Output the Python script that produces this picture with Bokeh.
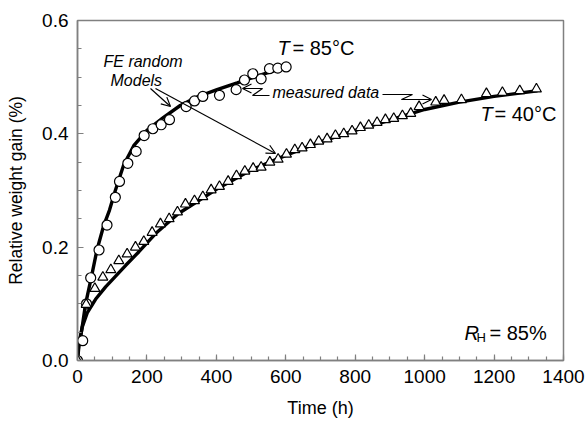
from bokeh.plotting import figure
from bokeh.models import Label, Arrow, OpenHead, FixedTicker, NumeralTickFormatter, Range1d
from bokeh.embed import file_html
from bokeh.resources import INLINE

# ---- data ----
t85_meas = [0, 15, 26, 38, 62, 85, 109, 121, 145, 169, 192, 217, 241, 265, 313, 337,
            361, 409, 457, 481, 505, 529, 553, 577, 601]
w85_meas = [0.0, 0.035, 0.100, 0.146, 0.195, 0.239, 0.288, 0.316, 0.348, 0.369, 0.397,
            0.409, 0.416, 0.425, 0.448, 0.458, 0.466, 0.468, 0.478, 0.495, 0.506, 0.497,
            0.515, 0.516, 0.518]

t40_meas = [0, 25, 50, 73, 96, 119, 143, 167, 191, 215, 239, 264, 288, 311, 337, 361,
            385, 409, 434, 458, 482, 506, 529, 554, 578, 602, 626, 647, 671, 695, 719,
            743, 767, 791, 815, 839, 863, 887, 911, 936, 960, 984, 1032, 1056, 1106,
            1178, 1224, 1274, 1322]
w40_meas = [0.0, 0.099, 0.127, 0.147, 0.160, 0.176, 0.188, 0.200, 0.210, 0.226, 0.241,
            0.250, 0.262, 0.276, 0.282, 0.289, 0.301, 0.307, 0.316, 0.326, 0.334, 0.339,
            0.341, 0.350, 0.355, 0.364, 0.372, 0.375, 0.381, 0.387, 0.391, 0.397, 0.400,
            0.405, 0.411, 0.415, 0.420, 0.425, 0.427, 0.432, 0.436, 0.448, 0.456, 0.459,
            0.460, 0.471, 0.473, 0.476, 0.479]

t85_model = [0, 4, 12, 23, 40, 56, 76, 92, 109, 133, 162, 200, 248, 296, 344, 402, 460,
             517, 565, 604]
w85_model = [0.0, 0.025, 0.053, 0.099, 0.147, 0.195, 0.239, 0.265, 0.300, 0.345, 0.379,
             0.406, 0.429, 0.450, 0.465, 0.478, 0.490, 0.502, 0.511, 0.518]

t40_model = [0, 3, 13.5, 28, 52, 81, 110, 139, 177, 225, 290, 400, 500, 600, 700, 800,
             900, 1000, 1100, 1200, 1325]
w40_model = [0.0, 0.025, 0.059, 0.084, 0.108, 0.130, 0.149, 0.168, 0.192, 0.224, 0.259,
             0.302, 0.336, 0.362, 0.386, 0.406, 0.424, 0.443, 0.456, 0.466, 0.476]

x_major = [0, 200, 400, 600, 800, 1000, 1200, 1400]
x_minor = list(range(0, 1401, 50))
y_major = [0.0, 0.2, 0.4, 0.6]
y_minor = [0.0, 0.05, 0.1, 0.15, 0.2, 0.25, 0.3, 0.35, 0.4, 0.45, 0.5, 0.55, 0.6]

# ---- layout helpers (pixel -> data, for annotation placement) ----
FL, FR, FT, FB = 77, 563, 20, 360
XMAX, YMAX = 1400, 0.6
def dx(px):
    return (px - FL) * XMAX / (FR - FL)
def dy(py):
    return (FB - py) * YMAX / (FB - FT)

FONT = "Liberation Sans"
GREY = "#808080"

p = figure(width=586, height=421, output_backend="svg", toolbar_location=None,
           x_range=Range1d(0, XMAX), y_range=Range1d(0, YMAX),
           min_border_left=FL, min_border_right=586 - FR,
           min_border_top=FT, min_border_bottom=421 - FB)
p.grid.visible = False
p.outline_line_color = GREY
p.outline_line_width = 1.5
p.background_fill_color = "white"
p.border_fill_color = "white"

for ax in (p.xaxis[0], p.yaxis[0]):
    ax.axis_line_color = GREY
    ax.axis_line_width = 1.5
    ax.major_tick_line_color = GREY
    ax.minor_tick_line_color = GREY
    ax.major_tick_line_width = 1.2
    ax.minor_tick_line_width = 1.2
    ax.major_tick_in = 6
    ax.major_tick_out = 0
    ax.minor_tick_in = 4
    ax.minor_tick_out = 0
    ax.major_label_text_font = FONT
    ax.major_label_text_font_size = "19px"
    ax.major_label_text_color = "black"
    ax.axis_label_text_font = FONT
    ax.axis_label_text_font_style = "normal"
    ax.axis_label_text_color = "black"

p.xaxis.axis_label_text_font_size = "18px"
p.yaxis.axis_label_text_font_size = "17.5px"
p.xaxis.ticker = FixedTicker(ticks=x_major, minor_ticks=x_minor)
p.yaxis.ticker = FixedTicker(ticks=y_major, minor_ticks=y_minor)
p.yaxis.formatter = NumeralTickFormatter(format="0.0")
p.xaxis.axis_label = "Time (h)"
p.yaxis.axis_label = "Relative weight gain (%)"
p.xaxis.major_label_standoff = 9
p.yaxis.major_label_standoff = 9
p.xaxis.axis_label_standoff = 12
p.yaxis.axis_label_standoff = 13

# model lines
p.line(t85_model, w85_model, line_color="black", line_width=3.4)
p.line(t40_model, w40_model, line_color="black", line_width=3.4)

# measured data
p.scatter(t85_meas, w85_meas, marker="circle", size=10, fill_color="white",
          line_color="black", line_width=1.2)
p.scatter(t40_meas, w40_meas, marker="triangle", size=10, fill_color="white",
          line_color="black", line_width=1.2)

def lbl(text, px, py, size="20px", style="normal", align="left"):
    p.add_layout(Label(x=dx(px), y=dy(py), text=text, text_font=FONT,
                       text_font_size=size, text_font_style=style,
                       text_align=align, text_baseline="middle", text_color="black"))

lbl("T", 277, 47, style="italic")
lbl("= 85°C", 292, 47)
lbl("T", 480, 113, style="italic")
lbl("= 40°C", 494, 113)
lbl("R", 464, 332, style="italic")
lbl("H", 476, 337, size="13px")
lbl("= 85%", 489, 332)
lbl("FE random", 103, 61, size="16px", style="italic")
lbl("Models", 110, 80, size="16px", style="italic")
lbl("measured data", 272, 92, size="16px", style="italic")

def arrow(x0, y0, x1, y1):
    p.add_layout(Arrow(end=OpenHead(size=9, line_width=1.2, line_color="black"),
                       x_start=dx(x0), y_start=dy(y0), x_end=dx(x1), y_end=dy(y1),
                       line_width=1.2, line_color="black"))

arrow(150, 88, 170, 106)
arrow(155, 88, 275, 153)

# zig-zag arrows from "measured data"
p.line([dx(269), dx(252), dx(262)], [dy(95), dy(95), dy(88)], line_color="black", line_width=1.2)
arrow(262, 88, 242, 88)
p.line([dx(382), dx(412), dx(401)], [dy(94), dy(94), dy(99)], line_color="black", line_width=1.2)
arrow(401, 99, 431, 99)

open("out.html", "w").write(file_html(p, INLINE))
